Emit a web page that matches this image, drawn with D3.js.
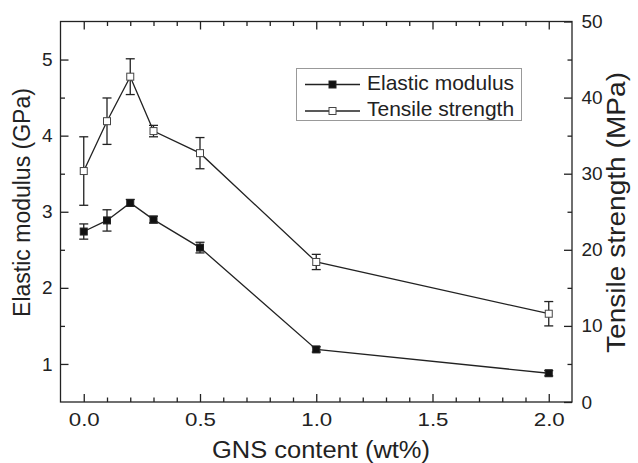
<!DOCTYPE html>
<html>
<head>
<meta charset="utf-8">
<script src="https://cdn.jsdelivr.net/npm/d3@7"></script>
<style>
  body { margin: 0; background: #fff; }
  svg { display: block; font-family: "Liberation Sans", Arial, sans-serif; }
  .axis path.domain { display: none; }
  .axis line { stroke: #222; stroke-width: 1.3; }
  .axis text { font-size: 19px; fill: #222; }
</style>
</head>
<body>
<svg id="chart" width="638" height="463"></svg>
<script>
"use strict";

// GNS content (wt%)
const content = [0.0, 0.1, 0.2, 0.3, 0.5, 1.0, 2.0];
// elastic modulus (GPa) and its error
const modulus = [2.74, 2.886, 3.116, 2.897, 2.529, 1.191, 0.878];
const modulusErr = [0.10, 0.14, 0.045, 0.045, 0.07, 0.035, 0.035];
// tensile strength (MPa) and its error
const strength = [30.35, 36.9, 42.75, 35.6, 32.7, 18.4, 11.6];
const strengthErr = [4.5, 3.05, 2.35, 0.75, 2.05, 1.0, 1.6];

const xMajor = [0.0, 0.5, 1.0, 1.5, 2.0];
const xMinor = [0.1, 0.2, 0.3, 0.4, 0.6, 0.7, 0.8, 0.9, 1.1, 1.2, 1.3, 1.4, 1.6, 1.7, 1.8, 1.9];
const leftMajor = [1, 2, 3, 4, 5];
const leftMinor = [1.5, 2.5, 3.5, 4.5];
const rightMajor = [0, 10, 20, 30, 40, 50];
const rightMinor = [5, 15, 25, 35, 45];

const seriesNames = ['Elastic modulus', 'Tensile strength'];

const svg = d3.select('#chart');
const plotLeft = 60.5, plotRight = 572, plotTop = 21.5, plotBottom = 402;
const ink = '#222';

const x = d3.scaleLinear().domain([-0.1, 2.1]).range([plotLeft, plotRight]);
const yL = d3.scaleLinear().domain([0.5, 5.5]).range([plotBottom, plotTop]);
const yR = d3.scaleLinear().domain([0, 50]).range([plotBottom, plotTop]);

// axes, ticks pointing inward
function addAxis(axis, tx, ty) {
  return svg.append('g').attr('class', 'axis').attr('transform', `translate(${tx},${ty})`).call(axis);
}
const fmt1 = d3.format('.1f');
const fmtInt = d3.format('d');
const xb = addAxis(d3.axisBottom(x).tickValues(xMajor).tickFormat(fmt1).tickSize(-8).tickSizeOuter(0).tickPadding(11), 0, plotBottom);
xb.selectAll('text').attr('textLength', 31).attr('lengthAdjust', 'spacingAndGlyphs');
addAxis(d3.axisBottom(x).tickValues(xMinor).tickFormat('').tickSize(-4.5).tickSizeOuter(0), 0, plotBottom);
addAxis(d3.axisTop(x).tickValues(xMajor).tickFormat('').tickSize(-8).tickSizeOuter(0), 0, plotTop);
addAxis(d3.axisTop(x).tickValues(xMinor).tickFormat('').tickSize(-4.5).tickSizeOuter(0), 0, plotTop);

addAxis(d3.axisLeft(yL).tickValues(leftMajor).tickFormat(fmtInt).tickSize(-8).tickSizeOuter(0).tickPadding(8), plotLeft, 0);
addAxis(d3.axisLeft(yL).tickValues(leftMinor).tickFormat('').tickSize(-4.5).tickSizeOuter(0), plotLeft, 0);
addAxis(d3.axisRight(yR).tickValues(rightMajor).tickFormat(fmtInt).tickSize(-8).tickSizeOuter(0).tickPadding(9.5), plotRight, 0);
addAxis(d3.axisRight(yR).tickValues(rightMinor).tickFormat('').tickSize(-4.5).tickSizeOuter(0), plotRight, 0);

// frame
svg.append('rect')
  .attr('x', plotLeft).attr('y', plotTop)
  .attr('width', plotRight - plotLeft).attr('height', plotBottom - plotTop)
  .attr('fill', 'none').attr('stroke', ink).attr('stroke-width', 1.3);

// axis titles
svg.append('text')
  .attr('x', 321).attr('y', 457.5)
  .attr('text-anchor', 'middle')
  .attr('font-size', 23).attr('fill', ink)
  .attr('textLength', 218).attr('lengthAdjust', 'spacingAndGlyphs')
  .text('GNS content (wt%)');
svg.append('text')
  .attr('transform', 'translate(30,202.5) rotate(-90)')
  .attr('text-anchor', 'middle')
  .attr('font-size', 23).attr('fill', ink)
  .text('Elastic modulus (GPa)');
svg.append('text')
  .attr('transform', 'translate(625,212.5) rotate(-90)')
  .attr('text-anchor', 'middle')
  .attr('font-size', 25).attr('fill', ink)
  .attr('textLength', 281).attr('lengthAdjust', 'spacingAndGlyphs')
  .text('Tensile strength (MPa)');

function drawSeries(values, errs, y, fill) {
  const pts = content.map(function(c, i) { return { x: c, v: values[i], e: errs[i] }; });
  const line = d3.line()
    .x(function(d) { return x(d.x); })
    .y(function(d) { return y(d.v); });
  svg.append('path').datum(pts)
    .attr('d', line).attr('fill', 'none')
    .attr('stroke', ink).attr('stroke-width', 1.3);

  const bars = svg.append('g').attr('stroke', ink).attr('stroke-width', 1.3);
  bars.selectAll(null).data(pts).enter().append('line')
    .attr('x1', function(d) { return x(d.x); }).attr('x2', function(d) { return x(d.x); })
    .attr('y1', function(d) { return y(d.v - d.e); }).attr('y2', function(d) { return y(d.v + d.e); });
  [-1, 1].forEach(function(s) {
    bars.selectAll(null).data(pts).enter().append('line')
      .attr('x1', function(d) { return x(d.x) - 4.5; }).attr('x2', function(d) { return x(d.x) + 4.5; })
      .attr('y1', function(d) { return y(d.v + s * d.e); }).attr('y2', function(d) { return y(d.v + s * d.e); });
  });

  svg.append('g').selectAll('rect').data(pts).enter().append('rect')
    .attr('x', function(d) { return x(d.x) - 3.5; })
    .attr('y', function(d) { return y(d.v) - 3.5; })
    .attr('width', 7).attr('height', 7)
    .attr('fill', fill).attr('stroke', fill === '#fff' ? '#444' : ink).attr('stroke-width', 1);
}

drawSeries(modulus, modulusErr, yL, '#111');
drawSeries(strength, strengthErr, yR, '#fff');

// legend
const legend = svg.append('g');
legend.append('rect')
  .attr('x', 296.5).attr('y', 68.5).attr('width', 225).attr('height', 52)
  .attr('fill', '#fff').attr('stroke', '#999').attr('stroke-width', 1);
const rows = legend.selectAll('g.row').data(seriesNames).enter().append('g')
  .attr('transform', function(d, i) { return `translate(0,${84.5 + i * 26.5})`; });
rows.append('line')
  .attr('x1', 305).attr('x2', 360).attr('y1', 0).attr('y2', 0)
  .attr('stroke', ink).attr('stroke-width', 1.3);
rows.append('rect')
  .attr('x', 329).attr('y', -3.5).attr('width', 7).attr('height', 7)
  .attr('fill', function(d, i) { return i === 0 ? '#111' : '#fff'; })
  .attr('stroke', function(d, i) { return i === 0 ? ink : '#444'; });
rows.append('text')
  .attr('x', 367).attr('y', 5)
  .attr('font-size', 21).attr('fill', ink)
  .text(function(d) { return d; });
</script>
</body>
</html>
